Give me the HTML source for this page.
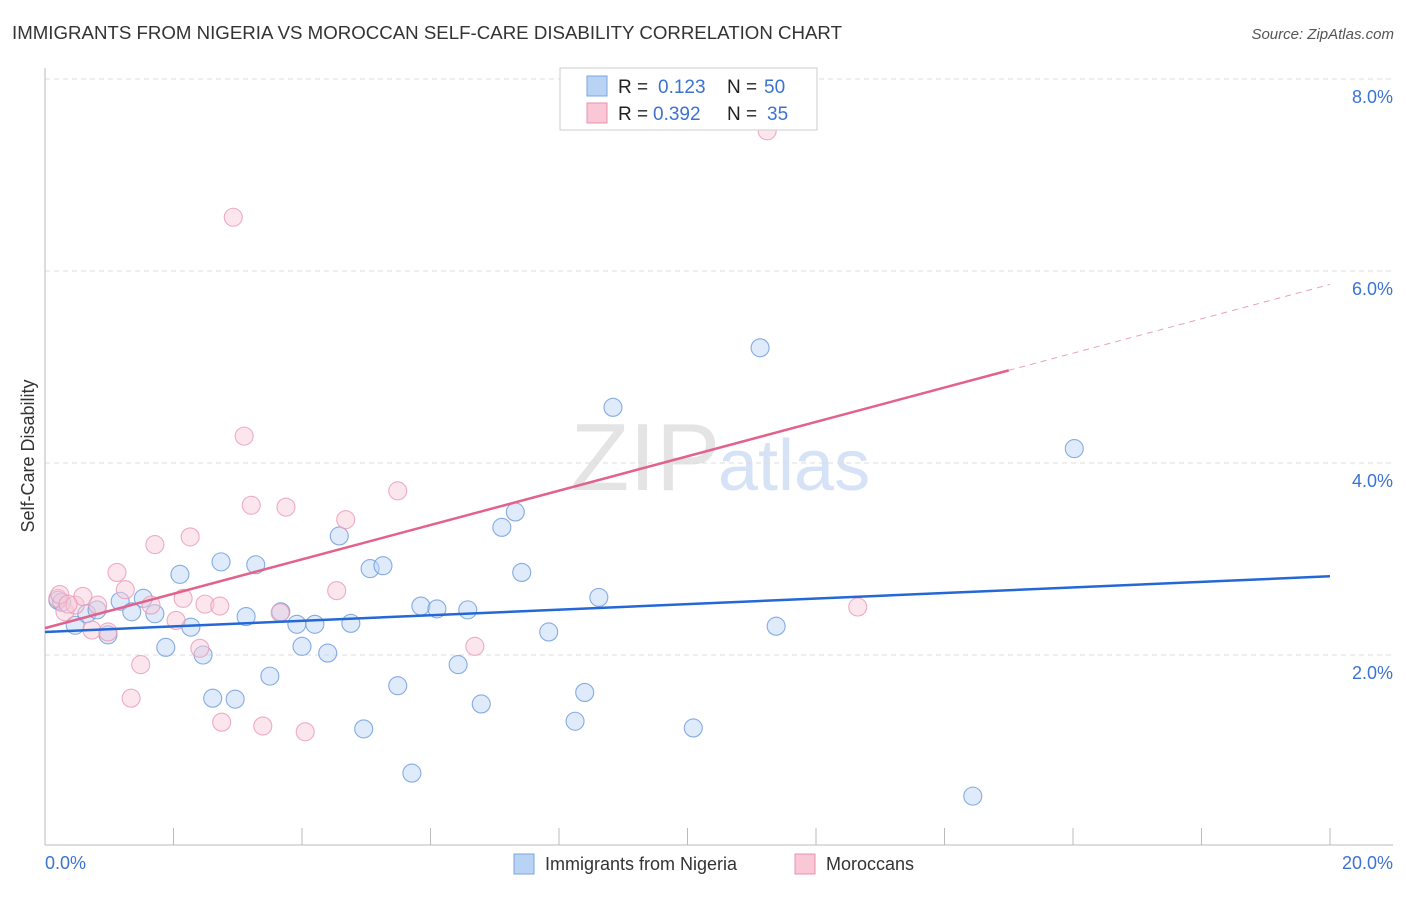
<!DOCTYPE html>
<html><head><meta charset="utf-8"><style>
body{margin:0;background:#fff;font-family:"Liberation Sans",sans-serif;}
svg text{font-family:"Liberation Sans",sans-serif;}
</style></head><body>
<svg id="chart" width="1406" height="892" xmlns="http://www.w3.org/2000/svg">
<text x="12" y="39" font-size="18.5" fill="#333" textLength="830" lengthAdjust="spacingAndGlyphs">IMMIGRANTS FROM NIGERIA VS MOROCCAN SELF-CARE DISABILITY CORRELATION CHART</text>
<text x="1394" y="39" font-size="15" fill="#555" font-style="italic" text-anchor="end">Source: ZipAtlas.com</text>
<text x="720" y="490" font-size="96" fill="#e4e4e4" text-anchor="end" font-family="Liberation Serif">ZIP</text>
<text x="718" y="490" font-size="72" fill="#d6e2f5">atlas</text>
<g id="grid"></g>
<g id="axes"></g>
<g id="marks"></g>
<text transform="translate(34,456) rotate(-90)" font-size="18" fill="#333" text-anchor="middle">Self-Care Disability</text>
<text x="45" y="869" font-size="18" fill="#3b73d3">0.0%</text>
<text x="1393" y="869" font-size="18" fill="#3b73d3" text-anchor="end">20.0%</text>
<g>
<rect x="560" y="68" width="257" height="62" fill="#fff" stroke="#ccc"/>
<rect x="587" y="76" width="20" height="20" fill="#b9d3f5" stroke="#7aa5e0"/>
<rect x="587" y="103" width="20" height="20" fill="#f9c7d6" stroke="#ea90ac"/>
<text x="618" y="93" font-size="19" fill="#222">R =</text><text x="658" y="93" font-size="19" fill="#3b73d3">0.123</text>
<text x="727" y="93" font-size="19" fill="#222">N =</text><text x="764" y="93" font-size="19" fill="#3b73d3">50</text>
<text x="618" y="120" font-size="19" fill="#222">R =</text><text x="653" y="120" font-size="19" fill="#3b73d3">0.392</text>
<text x="727" y="120" font-size="19" fill="#222">N =</text><text x="767" y="120" font-size="19" fill="#3b73d3">35</text>
</g>
<g>
<rect x="514" y="854" width="20" height="20" fill="#b9d3f5" stroke="#7aa5e0"/>
<text x="545" y="870" font-size="18" fill="#333">Immigrants from Nigeria</text>
<rect x="795" y="854" width="20" height="20" fill="#f9c7d6" stroke="#ea90ac"/>
<text x="826" y="870" font-size="18" fill="#333">Moroccans</text>
</g>
</svg>
<script>
const blueX=[0.20,0.26,0.47,0.65,0.81,0.98,1.17,1.35,1.53,1.71,1.88,2.10,2.27,2.46,2.61,2.74,2.96,3.13,3.28,3.50,3.67,3.92,4.00,4.20,4.40,4.58,4.76,5.06,5.26,4.96,5.49,5.71,5.85,6.10,6.43,6.58,6.79,7.11,7.32,7.42,7.84,8.25,8.40,8.62,8.84,10.09,11.13,11.38,14.44,16.02];
const blueY=[2.57,2.55,2.31,2.43,2.47,2.21,2.56,2.45,2.59,2.43,2.08,2.84,2.29,2.00,1.55,2.97,1.54,2.40,2.94,1.78,2.45,2.32,2.09,2.32,2.02,3.24,2.33,2.90,2.93,1.23,1.68,0.77,2.51,2.48,1.90,2.47,1.49,3.33,3.49,2.86,2.24,1.31,1.61,2.60,4.58,1.24,5.20,2.30,0.53,4.15];
const pinkX=[0.20,0.31,0.47,0.59,0.73,0.82,0.98,1.12,1.25,1.34,1.49,1.65,1.71,2.04,2.15,2.26,2.41,2.49,2.72,2.75,2.93,3.10,3.21,3.39,3.66,3.75,4.05,4.54,4.68,5.49,6.69,11.24,12.65,0.23,0.36];
const pinkY=[2.59,2.45,2.52,2.61,2.26,2.52,2.24,2.86,2.68,1.55,1.90,2.52,3.15,2.36,2.59,3.23,2.07,2.53,2.51,1.30,6.56,4.28,3.56,1.26,2.44,3.54,1.20,2.67,3.41,3.71,2.09,7.46,2.50,2.63,2.53];
const blueTrend=[2.24,0.029];
const pinkTrend=[2.28,0.179];
const yTicks=[2,4,6,8];
const xTicks=[0,2,4,6,8,10,12,14,16,18,20];
const sx=v=>45+v/20*1285, sy=v=>847-v*96;
const NS="http://www.w3.org/2000/svg";
function mk(parent,tag,attrs){const e=document.createElementNS(NS,tag);for(const k in attrs)e.setAttribute(k,attrs[k]);document.getElementById(parent).appendChild(e);return e;}
yTicks.forEach(t=>{
 const l=mk('grid','line',{x1:45,x2:1393,y1:sy(t),y2:sy(t),stroke:'#ddd','stroke-dasharray':'5,4'});
 
 
 const tx=mk('grid','text',{x:1393,y:sy(t)+24,'font-size':18,fill:'#3b73d3','text-anchor':'end'});
 tx.textContent=t.toFixed(1)+'%';
 
 
});
const ya=mk('axes','line',{x1:45,x2:45,y1:68,y2:845,stroke:'#bbb'});


const xa=mk('axes','line',{x1:45,x2:1393,y1:845,y2:845,stroke:'#bbb'});


xTicks.forEach(t=>{
 const l=mk('axes','line',{x1:sx(t),x2:sx(t),y1:828,y2:845,stroke:'#bbb'});
 
 
});
function pts(xs,ys,fill,stroke,name){
 xs.forEach((x,i)=>{
  const c=mk('marks','circle',{cx:sx(x),cy:sy(ys[i]),r:9,fill:fill,'fill-opacity':0.45,stroke:stroke,'stroke-width':1.1,'stroke-opacity':0.8});
  
  
 });
}
pts(blueX,blueY,'#b9d3f5','#6a98dc','nigeria-point');
pts(pinkX,pinkY,'#f9c7d6','#eb98b3','moroccan-point');
const bl=mk('marks','line',{x1:sx(0),y1:sy(blueTrend[0]),x2:sx(20),y2:sy(blueTrend[0]+20*blueTrend[1]),stroke:'#2468d6','stroke-width':2.5});


const pl=mk('marks','line',{x1:sx(0),y1:sy(pinkTrend[0]),x2:sx(15),y2:sy(pinkTrend[0]+15*pinkTrend[1]),stroke:'#e2628c','stroke-width':2.5});


const pd=mk('marks','line',{x1:sx(15),y1:sy(pinkTrend[0]+15*pinkTrend[1]),x2:sx(20),y2:sy(pinkTrend[0]+20*pinkTrend[1]),stroke:'#e8a0b8','stroke-width':1,'stroke-dasharray':'6,5'});


</script>
</body></html>
